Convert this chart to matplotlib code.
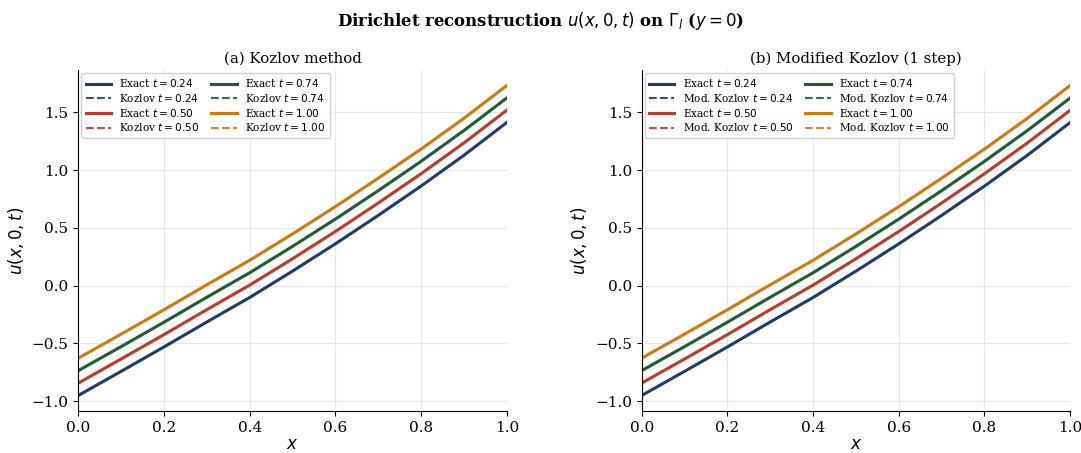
import matplotlib
matplotlib.use("Agg")
import matplotlib.pyplot as plt

# values at x = 0, 0.1, ..., 1.0
x_vals = [0.0, 0.1, 0.2, 0.3, 0.4, 0.5, 0.6, 0.7, 0.8, 0.9, 1.0]
times = [0.24, 0.50, 0.74, 1.00]
u_t024 = [-0.950, -0.741, -0.530, -0.314, -0.102, 0.126, 0.362, 0.608, 0.862, 1.128, 1.412]
u_t050 = [-0.843, -0.634, -0.423, -0.207, 0.005, 0.233, 0.469, 0.715, 0.969, 1.235, 1.518]
u_t074 = [-0.735, -0.527, -0.316, -0.100, 0.112, 0.340, 0.576, 0.822, 1.076, 1.342, 1.624]
u_t100 = [-0.627, -0.419, -0.208, 0.008, 0.220, 0.448, 0.684, 0.930, 1.182, 1.448, 1.732]
exact_curves = [u_t024, u_t050, u_t074, u_t100]
# reconstructions coincide with the exact curves at this scale
kozlov_curves = [u_t024, u_t050, u_t074, u_t100]
mod_kozlov_curves = [u_t024, u_t050, u_t074, u_t100]

colors = ["#1f3d6c", "#c0392b", "#1e5e32", "#d07a0c"]

plt.rcParams["font.family"] = "DejaVu Serif"
plt.rcParams["mathtext.fontset"] = "dejavusans"

fig = plt.figure(figsize=(10.81, 4.53), dpi=100)
ax_a = fig.add_axes([0.0724, 0.0927, 0.3964, 0.7528])
ax_b = fig.add_axes([0.5936, 0.0927, 0.3964, 0.7528])

panels = [
    (ax_a, kozlov_curves, "Kozlov", "(a) Kozlov method"),
    (ax_b, mod_kozlov_curves, "Mod. Kozlov", "(b) Modified Kozlov (1 step)"),
]

for ax, recon, name, title in panels:
    for t, ex, rc, c in zip(times, exact_curves, recon, colors):
        ax.plot(x_vals, ex, color=c, lw=2.2, label=f"Exact $t = {t:.2f}$")
        ax.plot(x_vals, rc, color=c, lw=1.5, ls="--", alpha=0.9,
                label=f"{name} $t = {t:.2f}$")
    ax.set_xlim(0, 1)
    ax.set_title(title, fontsize=10.8, pad=5)
    ax.set_xlabel("$x$", fontsize=12, labelpad=1)
    ax.set_ylabel("$u(x,0,t)$", fontsize=12)
    ax.tick_params(labelsize=11)
    ax.grid(True, color="#e6e6e6", lw=0.8)
    ax.set_axisbelow(True)
    ax.spines["top"].set_visible(False)
    ax.spines["right"].set_visible(False)
    ax.legend(ncol=2, fontsize=7.6, loc="upper left", frameon=True,
              handlelength=2.4, columnspacing=1.1, labelspacing=0.25,
              borderpad=0.4, framealpha=0.9, borderaxespad=0.3)

fig.suptitle(r"Dirichlet reconstruction $u(x,0,t)$ on $\Gamma_l$ ($y=0$)",
             fontsize=11.9, fontweight="bold", y=0.978)

fig.savefig("out.png", dpi=100)
